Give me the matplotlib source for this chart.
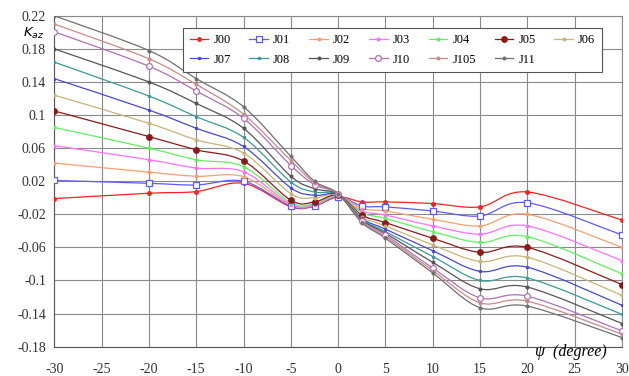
import numpy as np
import matplotlib
matplotlib.use('Agg')
import matplotlib.pyplot as plt
from matplotlib.path import Path
from matplotlib.patches import PathPatch
from matplotlib.lines import Line2D

# Data
psi = [-30, -20, -15, -10, -5, -2.5, 0, 2.5, 5, 10, 15, 20, 30]

J00 = [-0.001, 0.0055, 0.0075, 0.0175, -0.011, -0.010, 0.001, -0.005, -0.005, -0.007, -0.011, 0.007, -0.027]
J01 = [0.021, 0.0175, 0.0155, 0.020, -0.010, -0.010, 0.0015, -0.010, -0.011, -0.016, -0.022, -0.006, -0.045]
J02 = [0.042, 0.031, 0.026, 0.0255, -0.009, -0.009, 0.002, -0.013, -0.016, -0.026, -0.034, -0.020, -0.060]
J03 = [0.063, 0.046, 0.036, 0.0315, -0.008, -0.008, 0.002, -0.016, -0.021, -0.034, -0.044, -0.034, -0.076]
J04 = [0.085, 0.060, 0.046, 0.0376, -0.006, -0.007, 0.0025, -0.018, -0.025, -0.041, -0.054, -0.047, -0.092]
J05 = [0.105, 0.074, 0.058, 0.0445, -0.003, -0.005, 0.003, -0.021, -0.030, -0.049, -0.066, -0.060, -0.105]
J06 = [0.124, 0.090, 0.070, 0.054, 0.005, 0.000, 0.003, -0.023, -0.034, -0.057, -0.077, -0.072, -0.118]
J07 = [0.144, 0.106, 0.084, 0.062, 0.012, 0.003, 0.0035, -0.025, -0.038, -0.064, -0.089, -0.084, -0.130]
J08 = [0.164, 0.123, 0.098, 0.073, 0.019, 0.007, 0.004, -0.026, -0.041, -0.071, -0.100, -0.097, -0.141]
J09 = [0.180, 0.140, 0.114, 0.084, 0.026, 0.011, 0.004, -0.027, -0.043, -0.078, -0.110, -0.108, -0.152]
J10 = [0.2007, 0.159, 0.129, 0.096, 0.039, 0.016, 0.0045, -0.028, -0.045, -0.085, -0.121, -0.119, -0.161]
J105 = [0.210, 0.168, 0.137, 0.101, 0.045, 0.018, 0.005, -0.029, -0.047, -0.088, -0.127, -0.125, -0.165]
J11 = [0.220, 0.178, 0.144, 0.110, 0.050, 0.020, 0.005, -0.030, -0.049, -0.091, -0.133, -0.131, -0.169]

names = ['J00', 'J01', 'J02', 'J03', 'J04', 'J05', 'J06',
         'J07', 'J08', 'J09', 'J10', 'J105', 'J11']
series = [J00, J01, J02, J03, J04, J05, J06, J07, J08, J09, J10, J105, J11]

yticks = [-0.18, -0.14, -0.1, -0.06, -0.02, 0.02, 0.06, 0.1, 0.14, 0.18, 0.22]
ytick_labels = ['-0.18', '-0.14', '-0.1', '-0.06', '-0.02', '0.02', '0.06', '0.1', '0.14', '0.18', '0.22']
xticks = [-30, -25, -20, -15, -10, -5, 0, 5, 10, 15, 20, 25, 30]

# styles: color, marker, marker size, filled
styles = {
    'J00': ('#ff2020', 'o', 2.6, True),
    'J01': ('#5a5aff', 's', 4.0, False),
    'J02': ('#f5a070', 'o', 2.0, True),
    'J03': ('#ff70ff', 'o', 2.0, True),
    'J04': ('#60f060', 'o', 2.0, True),
    'J05': ('#8b1a1a', 'o', 4.0, True),
    'J06': ('#c8b478', 'o', 2.0, True),
    'J07': ('#4848d0', 'o', 1.6, True),
    'J08': ('#3a9a9a', 'o', 1.6, True),
    'J09': ('#555555', 'o', 2.0, True),
    'J10': ('#b070b8', 'o', 4.2, False),
    'J105': ('#c88a8a', 'o', 2.0, True),
    'J11': ('#707070', 'o', 2.0, True),
}


def smooth_path(xs, ys):
    # Excel-like smoothed line: cubic Bezier segments through the points
    pts = np.column_stack([xs, ys]).astype(float)
    n = len(pts)
    verts = [pts[0]]
    codes = [Path.MOVETO]
    for i in range(n - 1):
        p0 = pts[i - 1] if i > 0 else pts[i]
        p1 = pts[i]
        p2 = pts[i + 1]
        p3 = pts[i + 2] if i + 2 < n else pts[i + 1]
        c1 = p1 + (p2 - p0) / 6.0
        c2 = p2 - (p3 - p1) / 6.0
        verts += [c1, c2, p2]
        codes += [Path.CURVE4] * 3
    return Path(verts, codes)


plt.rcParams['font.family'] = ['Liberation Serif', 'DejaVu Serif']

fig = plt.figure(figsize=(6.29, 3.76), dpi=100)
ax = fig.add_axes([0.0863, 0.078, 0.9027, 0.880])

handles = []
for name, ys in zip(names, series):
    color, mk, ms, filled = styles[name]
    patch = PathPatch(smooth_path(psi, ys), facecolor='none', edgecolor=color,
                      lw=0.9, zorder=3)
    ax.add_patch(patch)
    mfc = color if filled else 'white'
    ax.plot(psi, ys, ls='none', marker=mk, ms=ms, mfc=mfc, mec=color,
            mew=0.9, zorder=4)
    handles.append(Line2D([], [], color=color, lw=0.9, marker=mk, ms=ms,
                          mfc=mfc, mec=color, mew=0.9, label=name))

ax.set_xlim(-30, 30)
ax.set_ylim(-0.18, 0.22)
ax.set_xticks(xticks)
ax.set_xticklabels([str(t) for t in xticks])
ax.set_yticks(yticks)
ax.set_yticklabels(ytick_labels)
ax.tick_params(length=0, labelsize=10, colors='#333333')
ax.tick_params(axis='x', pad=12)
ax.tick_params(axis='y', pad=6)
ax.grid(True, color='#8a8a8a', lw=0.8)
ax.set_axisbelow(True)
for s in ax.spines.values():
    s.set_color('#8a8a8a')
    s.set_linewidth(0.8)
ax.spines['left'].set_color('#555555')
ax.spines['bottom'].set_color('#555555')

# legend: row-major order in 7 columns (one blank slot)
blank = Line2D([], [], ls='none', label=' ')
row1 = handles[:7]
row2 = handles[7:] + [blank]
ordered = []
for a, b in zip(row1, row2):
    ordered += [a, b]
leg = ax.legend(handles=ordered, labels=[h.get_label() for h in ordered],
                ncol=7, loc='upper right', bbox_to_anchor=(0.975, 0.982),
                fontsize=9, frameon=True, fancybox=False, framealpha=1,
                edgecolor='#555555', handlelength=1.5, handletextpad=0.4,
                columnspacing=1.5, borderpad=0.5, labelspacing=0.6)
leg.get_frame().set_linewidth(0.8)
leg.set_zorder(10)

fig.text(0.036, 0.912, r'$\mathbf{\mathit{K}}_{az}$', fontsize=9.5, ha='left', va='center')
fig.text(0.850, 0.064, 'ψ  (degree)', fontsize=11.5, style='italic', ha='left', va='center')

fig.savefig('out.png', dpi=100)
